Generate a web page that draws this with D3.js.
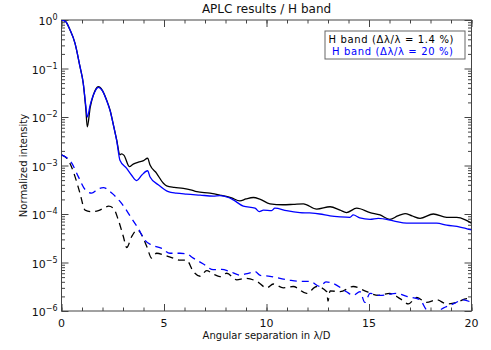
<!DOCTYPE html>
<html><head><meta charset="utf-8">
<script src="https://cdn.jsdelivr.net/npm/d3@7"></script>
<style>body{margin:0;background:#fff}svg{display:block}text{font-family:"DejaVu Sans",sans-serif}</style>
</head><body><svg id="c" width="491" height="350"></svg>
<script>
// Data (x in lambda/D, normalized intensity)
const xNarrowOff = [0,0.2,0.41,0.66,0.9,1.06,1.18,1.26,1.4,1.55,1.8,2.0,2.2,2.37,2.55,2.69,2.85,2.93,3.05,3.31,3.5,3.75,4.0,4.2,4.32,4.64,4.97,5.13,5.5,5.94,6.3,6.6,7.24,7.73,8.3,8.7,9.0,9.36,9.7,10.17,10.8,11.3,11.8,12.45,13.1,13.59,13.9,14.4,15.05,15.54,16.02,16.4,16.76,17.1,17.49,18.14,18.79,19.28,19.7,20];
const yNarrowOff = [1,0.93,0.63,0.33,0.11,0.05,0.0158,0.0063,0.0158,0.028,0.042,0.035,0.0224,0.0138,0.0063,0.0034,0.00166,0.00174,0.00162,0.00095,0.00107,0.00117,0.00126,0.00141,0.00102,0.00069,0.00043,0.00038,0.000355,0.000339,0.000316,0.000288,0.000269,0.000245,0.000214,0.000186,0.000204,0.000219,0.0002,0.000162,0.000155,0.000158,0.000162,0.000126,0.000141,0.00012,0.000107,0.000132,0.000107,0.0000955,0.0000776,0.0000912,0.000102,0.0000912,0.0000813,0.0001,0.0000851,0.0000851,0.0000759,0.0000646];
const xBroadOff = [0,0.2,0.41,0.66,0.9,1.06,1.18,1.26,1.4,1.55,1.8,2.0,2.2,2.37,2.55,2.69,2.85,3.18,3.42,3.67,3.91,4.2,4.32,4.72,5.21,5.6,6.1,6.76,7.4,7.73,8.14,8.38,8.87,9.44,9.65,9.85,10.25,10.41,10.98,11.63,12.1,12.6,13.1,13.59,14.07,14.23,14.55,15.05,15.45,16.19,16.84,17.49,18.3,18.79,19.44,20];
const yBroadOff = [1,0.93,0.63,0.33,0.11,0.05,0.0178,0.01,0.0178,0.028,0.041,0.0347,0.0219,0.0135,0.0063,0.0033,0.00129,0.00087,0.00063,0.00049,0.00063,0.00078,0.00058,0.0004,0.000288,0.000269,0.000257,0.000245,0.000234,0.00024,0.000219,0.000195,0.000145,0.000132,0.000112,0.00012,0.000117,0.000132,0.000117,0.000107,0.000105,0.0001,0.0000912,0.0000871,0.0000851,0.0000955,0.0000832,0.0000776,0.0000813,0.0000724,0.0000646,0.0000646,0.0000646,0.0000589,0.0000537,0.0000468];
const xNarrowOn = [0,0.33,0.66,0.9,1.15,1.47,1.8,2.1,2.3,2.53,2.77,3.02,3.18,3.42,3.7,3.91,4.16,4.4,4.64,5.05,5.45,5.78,6.1,6.43,6.76,7.08,7.4,7.73,8.06,8.55,8.95,9.52,10.01,10.33,10.82,11.3,11.96,12.45,12.94,13.0,13.1,13.59,14.23,14.89,15.45,16.02,16.51,16.92,17.33,17.81,18.3,18.79,19.28,19.77,20];
const yNarrowOn = [0.00166,0.00129,0.00059,0.00027,0.00012,0.000112,0.000117,0.000135,0.000145,0.000132,0.0000759,0.0000339,0.0000204,0.0000339,0.0000468,0.0000372,0.0000214,0.0000123,0.0000155,0.0000141,0.0000123,0.0000112,0.0000112,0.0000065,0.0000052,0.0000068,0.0000058,0.0000051,0.000006,0.0000044,0.0000047,0.0000041,0.000003,0.0000036,0.000003,0.0000032,0.0000023,0.0000032,0.0000025,0.0000016,0.0000026,0.0000025,0.0000032,0.0000025,0.0000021,0.0000023,0.0000018,0.0000014,0.0000019,0.0000015,0.0000017,0.0000014,0.0000015,0.0000018,0.0000017];
const xBroadOn = [0,0.5,0.82,1.15,1.47,1.75,2.04,2.45,2.93,3.42,3.75,4.07,4.4,4.89,5.29,5.78,6.1,6.43,6.92,7.4,7.81,8.22,8.71,9.11,9.44,9.7,10.17,10.66,11.15,11.63,12.12,12.61,12.9,13.26,13.9,14.23,14.56,14.8,15.05,15.54,16.35,16.84,17.49,17.81,18.2,18.62,19.11,19.6,20];
const yBroadOn = [0.00166,0.00112,0.00059,0.00032,0.00027,0.00032,0.00035,0.00027,0.000166,0.0000813,0.00005,0.0000288,0.0000229,0.0000195,0.0000155,0.0000155,0.0000151,0.0000123,0.0000093,0.0000071,0.0000072,0.0000065,0.0000055,0.000006,0.0000065,0.0000054,0.0000052,0.0000047,0.0000043,0.0000041,0.0000041,0.0000032,0.000004,0.0000037,0.0000025,0.0000021,0.0000025,0.0000015,0.0000023,0.0000021,0.0000023,0.000002,0.0000017,0.00000105,0.0000009,0.00000115,0.0000014,0.0000017,0.0000015];

const xTicks = [0,5,10,15,20];
const yTickExp = [0,-1,-2,-3,-4,-5,-6];
const legendLabels = ["H band (Δλ/λ = 1.4 %)", "H band (Δλ/λ = 20 %)"];
const title = "APLC results / H band";
const xTitle = "Angular separation in λ/D";
const yTitle = "Normalized intensity";

const svg = d3.select("#c");
const L = 61.5, R = 471.5, T = 20, B = 311;
const x = d3.scaleLinear().domain([0,20]).range([L,R]);
const y = d3.scaleLog().domain([1e-6,1]).range([B,T]);

svg.append("clipPath").attr("id","clip").append("rect").attr("x",L).attr("y",T).attr("width",R-L).attr("height",B-T);

const axisCol = "#444";
function styleAxis(g){ g.select(".domain").remove(); g.selectAll("line").attr("stroke",axisCol).attr("stroke-width",1); g.selectAll("text").remove(); }

const minorX = d3.range(0,21,1);
const minorY = [];
for (let e=-6;e<0;e++) for (let m=2;m<=9;m++) minorY.push(m*Math.pow(10,e));
const majorY = yTickExp.map(e=>Math.pow(10,e));

svg.append("g").attr("transform",`translate(0,${B})`).call(d3.axisBottom(x).tickValues(minorX).tickSize(-3.5)).call(styleAxis);
svg.append("g").attr("transform",`translate(0,${B})`).call(d3.axisBottom(x).tickValues(xTicks).tickSize(-7)).call(styleAxis);
svg.append("g").attr("transform",`translate(0,${T})`).call(d3.axisTop(x).tickValues(minorX).tickSize(-3.5)).call(styleAxis);
svg.append("g").attr("transform",`translate(0,${T})`).call(d3.axisTop(x).tickValues(xTicks).tickSize(-7)).call(styleAxis);
svg.append("g").attr("transform",`translate(${L},0)`).call(d3.axisLeft(y).tickValues(minorY).tickSize(-3.5)).call(styleAxis);
svg.append("g").attr("transform",`translate(${L},0)`).call(d3.axisLeft(y).tickValues(majorY).tickSize(-7)).call(styleAxis);
svg.append("g").attr("transform",`translate(${R},0)`).call(d3.axisRight(y).tickValues(minorY).tickSize(-3.5)).call(styleAxis);
svg.append("g").attr("transform",`translate(${R},0)`).call(d3.axisRight(y).tickValues(majorY).tickSize(-7)).call(styleAxis);

svg.append("rect").attr("x",L).attr("y",T).attr("width",R-L).attr("height",B-T).attr("fill","none").attr("stroke",axisCol).attr("stroke-width",1);

svg.append("g").selectAll("text").data(xTicks).join("text")
  .attr("x",d=>x(d)).attr("y",B+16).attr("text-anchor","middle").attr("font-size",11).attr("fill","#111").text(d=>d);
const yl = svg.append("g").selectAll("text").data(yTickExp).join("text")
  .attr("x",L-4).attr("y",d=>y(Math.pow(10,d))+5).attr("text-anchor","end").attr("font-size",11).attr("fill","#111");
yl.append("tspan").text("10");
yl.append("tspan").attr("dy",-5).attr("font-size",8).text(d=>d===0?"0":"\u2212"+(-d));

svg.append("text").attr("x",(L+R)/2).attr("y",13).attr("text-anchor","middle").attr("font-size",12).attr("fill","#111").text(title);
svg.append("text").attr("x",(L+R)/2).attr("y",339).attr("text-anchor","middle").attr("font-size",10).attr("fill","#111").text(xTitle);
svg.append("text").attr("transform",`translate(27,${(T+B)/2}) rotate(-90)`).attr("text-anchor","middle").attr("font-size",10).attr("fill","#111").text(yTitle);

const line = d3.line().x(d=>x(d[0])).y(d=>y(d[1])).curve(d3.curveMonotoneX);
const plot = svg.append("g").attr("clip-path","url(#clip)");
const series = [
  {xs:xNarrowOn, ys:yNarrowOn, color:"#000", dash:"7,5"},
  {xs:xBroadOn, ys:yBroadOn, color:"#0000ff", dash:"7,5"},
  {xs:xNarrowOff, ys:yNarrowOff, color:"#000", dash:null},
  {xs:xBroadOff, ys:yBroadOff, color:"#0000ff", dash:null}
];
series.forEach(s=>{
  plot.append("path").datum(s.xs.map((v,i)=>[v,s.ys[i]]))
    .attr("d",line).attr("fill","none").attr("stroke",s.color).attr("stroke-width",1.3)
    .attr("stroke-dasharray",s.dash);
});

const lg = svg.append("g");
lg.append("rect").attr("x",325).attr("y",31).attr("width",140).attr("height",28).attr("fill","#fff").attr("stroke","#666").attr("stroke-width",1);
lg.append("text").attr("x",328.5).attr("y",43).attr("font-size",10).attr("fill","#000").attr("textLength",125).text(legendLabels[0]);
lg.append("text").attr("x",332).attr("y",55).attr("font-size",10).attr("fill","#0000ff").attr("textLength",121).text(legendLabels[1]);
</script></body></html>
